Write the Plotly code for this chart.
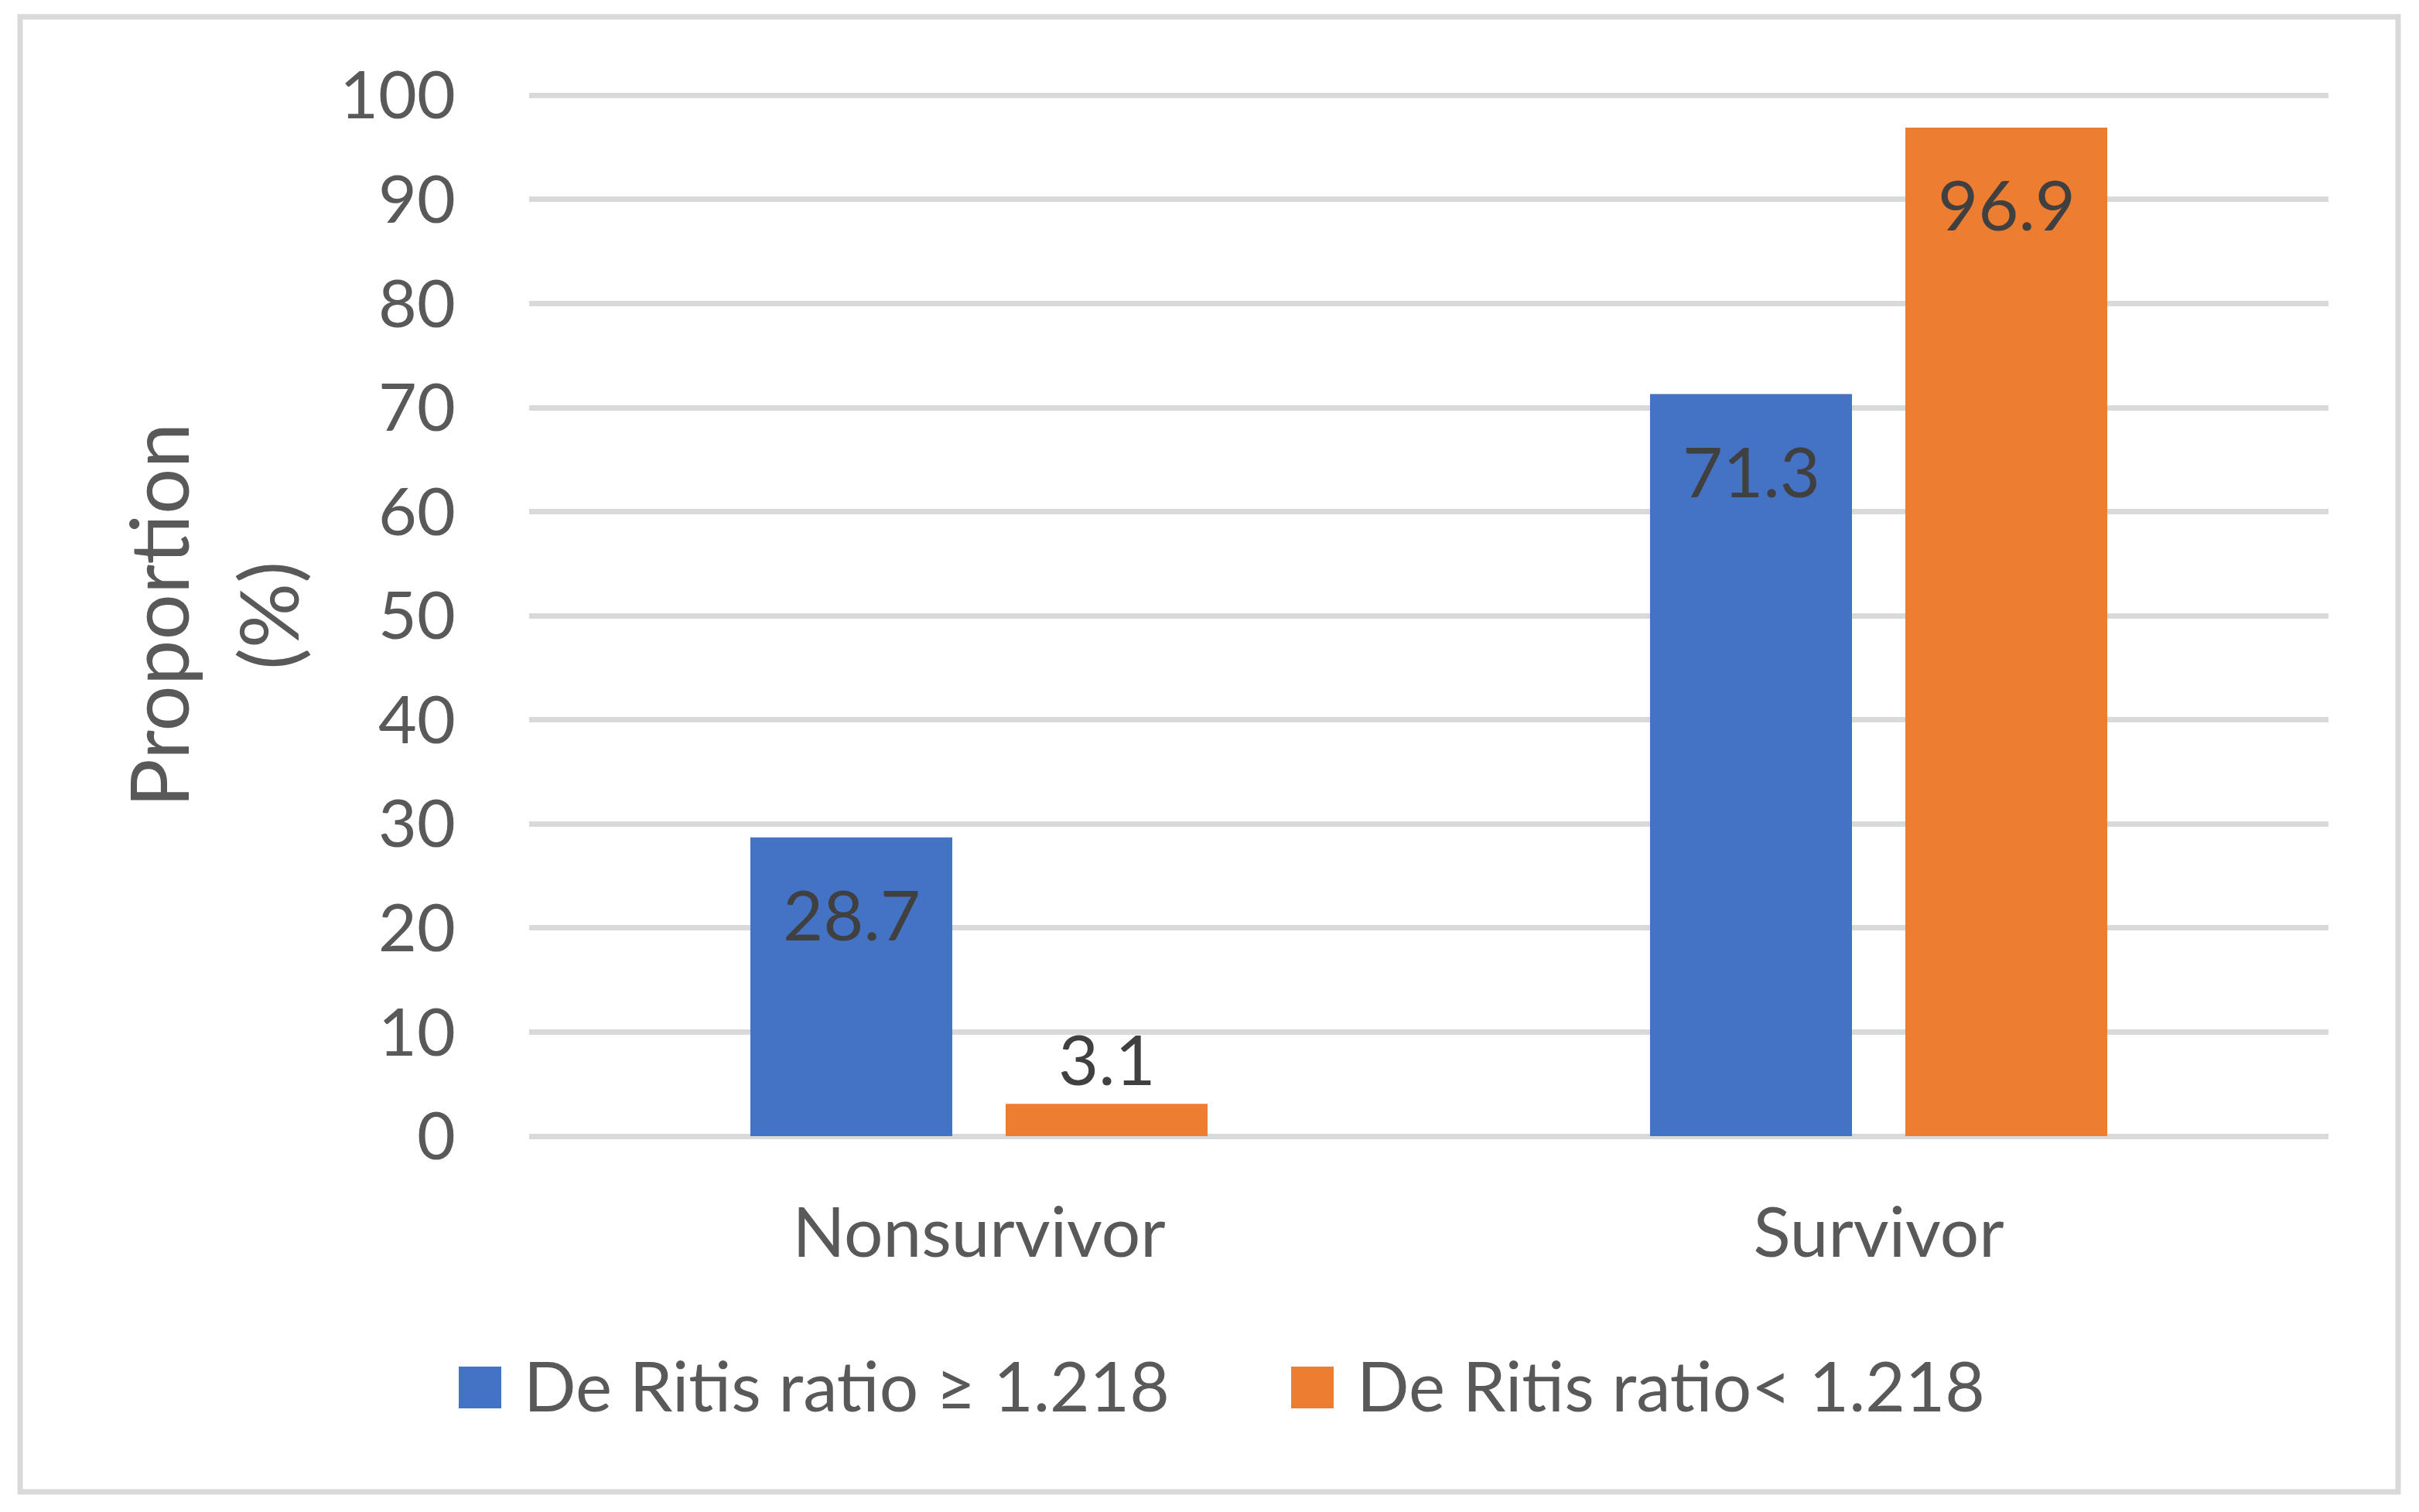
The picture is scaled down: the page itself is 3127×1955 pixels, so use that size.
import plotly.graph_objects as go

categories = ["Nonsurvivor", "Survivor"]
series_names = ["De Ritis ratio \u2265 1.218", "De Ritis ratio< 1.218"]
high_ratio = [28.7, 71.3]
low_ratio = [3.1, 96.9]
y_ticks = [0, 10, 20, 30, 40, 50, 60, 70, 80, 90, 100]

BLUE = "#4472C4"
ORANGE = "#ED7D31"
GRID = "#D9D9D9"
TXT = "#595959"
LBL = "#404040"
FONT = "Lato"

OFF = 8  # default page body margin
W, H = 3127 - 2 * OFF, 1955 - 2 * OFF
YMAX = 100.4
# target page pixels of the plot area
PL, PR, PB, P100 = 684, 3010, 1469, 123.5
L = PL - OFF
R = PR - OFF
B = PB - OFF
T = B - (PB - P100) * YMAX / 100.0


def px(xp):
    return (xp - OFF - L) / (R - L)


def py(yp):
    return (B - (yp - OFF)) / (B - T)


fig = go.Figure()
fig.add_trace(go.Bar(x=categories, y=high_ratio, name=series_names[0],
                     marker=dict(color=BLUE, line=dict(width=0)), showlegend=False))
fig.add_trace(go.Bar(x=categories, y=low_ratio, name=series_names[1],
                     marker=dict(color=ORANGE, line=dict(width=0)), showlegend=False))

# data labels
slot_shift = 165
for vals, shift in ((high_ratio, -slot_shift), (low_ratio, slot_shift)):
    for cat, v in zip(categories, vals):
        inside = v > 10
        fig.add_annotation(x=cat, y=v, xref="x", yref="y", text=f"{v}",
                           showarrow=False, xshift=shift,
                           yshift=-98 if inside else 59, yanchor="middle",
                           font=dict(family=FONT, size=90, color=LBL))

# y-axis title (two lines)
for txt, xc in (("Proportion", 203), ("(%)", 345)):
    fig.add_annotation(x=px(xc), y=py(796), xref="paper", yref="paper",
                       text=txt, textangle=-90, showarrow=False,
                       xanchor="center", yanchor="middle",
                       font=dict(family=FONT, size=105, color=TXT))

# legend (custom, large swatches)
legend_items = [(593, 675, BLUE, series_names[0]), (1669, 1752, ORANGE, series_names[1])]
for sx, tx, col, name in legend_items:
    fig.add_shape(type="rect", xref="paper", yref="paper",
                  x0=px(sx), x1=px(sx + 55), y0=py(1767), y1=py(1821),
                  fillcolor=col, line=dict(width=0))
    fig.add_annotation(x=px(tx), y=py(1790), xref="paper", yref="paper",
                       text=name, showarrow=False, xanchor="left", yanchor="middle",
                       font=dict(family=FONT, size=89, color=TXT))

# outer frame
fig.add_shape(type="rect", xref="paper", yref="paper",
              x0=px(26), x1=px(3100), y0=py(22), y1=py(1929),
              line=dict(color=GRID, width=7), fillcolor="rgba(0,0,0,0)", layer="below")

fig.update_layout(
    width=W, height=H, autosize=False,
    margin=dict(l=L, r=W - R, t=T, b=H - B, pad=0),
    paper_bgcolor="white", plot_bgcolor="white",
    barmode="group", bargap=0.4325, bargroupgap=0.209,
    font=dict(family=FONT, color=TXT),
    showlegend=False,
    xaxis=dict(showgrid=False, showline=False, zeroline=False,
               ticks="outside", ticklen=0, ticklabelstandoff=48,
               tickfont=dict(family=FONT, size=89, color=TXT)),
    yaxis=dict(range=[0, YMAX], tickvals=y_ticks, showgrid=True, gridcolor=GRID,
               gridwidth=7, zeroline=True, zerolinecolor=GRID, zerolinewidth=7,
               showline=False, ticks="outside", ticklen=0, ticklabelstandoff=77,
               tickfont=dict(family=FONT, size=86, color=TXT)),
)

fig.write_html("out.html")
